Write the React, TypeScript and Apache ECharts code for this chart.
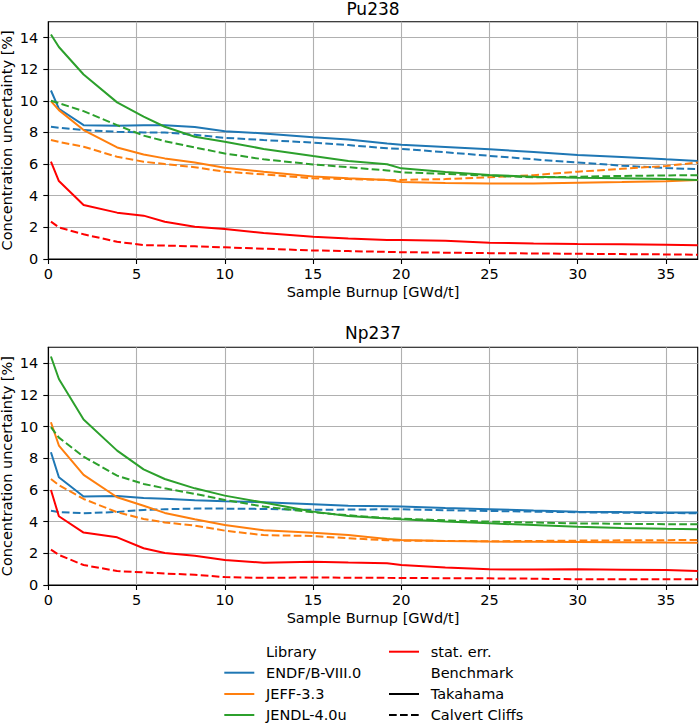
import React, { useEffect, useRef } from "react";
import * as echarts from "echarts";

// Sample burnup points [GWd/t]
const burnup = [0.15, 0.6, 2, 3.9, 5.4, 6.6, 8.3, 10, 12.2, 15, 17, 19.2, 20, 22.5, 25, 27.5, 30, 32.5, 35, 36.8];

// Pu238 – Takahama (solid)
const puTakENDF = [10.65, 9.5, 8.46, 8.42, 8.46, 8.45, 8.35, 8.08, 7.94, 7.7, 7.55, 7.3, 7.22, 7.08, 6.94, 6.76, 6.58, 6.45, 6.3, 6.2];
const puTakJEFF = [9.98, 9.41, 8.15, 7.05, 6.61, 6.36, 6.1, 5.77, 5.52, 5.21, 5.1, 5.0, 4.87, 4.8, 4.78, 4.78, 4.82, 4.86, 4.92, 5.0];
const puTakJENDL = [14.19, 13.4, 11.66, 9.9, 9.0, 8.36, 7.73, 7.41, 6.96, 6.51, 6.2, 5.99, 5.73, 5.5, 5.31, 5.2, 5.14, 5.1, 5.05, 5.0];
const puTakStat = [6.15, 4.93, 3.41, 2.93, 2.74, 2.36, 2.04, 1.89, 1.65, 1.41, 1.3, 1.2, 1.2, 1.15, 1.03, 0.98, 0.95, 0.93, 0.9, 0.87];
// Pu238 – Calvert Cliffs (dashed)
const puCalENDF = [8.36, 8.3, 8.15, 8.04, 8.0, 8.0, 7.85, 7.66, 7.52, 7.36, 7.2, 7.0, 6.96, 6.75, 6.52, 6.3, 6.1, 5.9, 5.75, 5.68];
const puCalJEFF = [7.52, 7.4, 7.1, 6.46, 6.15, 6.0, 5.8, 5.52, 5.35, 5.1, 5.05, 5.0, 5.0, 5.05, 5.17, 5.3, 5.52, 5.7, 5.88, 6.1];
const puCalJENDL = [10.0, 9.85, 9.35, 8.46, 7.8, 7.45, 7.05, 6.67, 6.3, 5.98, 5.8, 5.6, 5.48, 5.38, 5.27, 5.16, 5.2, 5.25, 5.28, 5.3];
const puCalStat = [2.36, 2.0, 1.56, 1.09, 0.88, 0.85, 0.8, 0.74, 0.65, 0.54, 0.5, 0.45, 0.43, 0.4, 0.37, 0.35, 0.33, 0.31, 0.29, 0.27];

// Np237 – Takahama (solid)
const npTakENDF = [8.38, 6.8, 5.58, 5.62, 5.49, 5.45, 5.35, 5.28, 5.22, 5.09, 5.0, 4.97, 4.95, 4.86, 4.78, 4.7, 4.63, 4.6, 4.58, 4.57];
const npTakJEFF = [10.27, 8.8, 6.95, 5.54, 5.0, 4.55, 4.15, 3.79, 3.45, 3.3, 3.15, 2.9, 2.84, 2.78, 2.74, 2.73, 2.72, 2.7, 2.68, 2.67];
const npTakJENDL = [14.42, 13.0, 10.44, 8.48, 7.3, 6.69, 6.1, 5.64, 5.2, 4.63, 4.35, 4.2, 4.15, 4.0, 3.89, 3.78, 3.68, 3.6, 3.55, 3.52];
const npTakStat = [6.0, 4.34, 3.31, 3.01, 2.32, 2.02, 1.85, 1.58, 1.4, 1.47, 1.42, 1.37, 1.26, 1.1, 0.99, 0.98, 0.99, 0.97, 0.95, 0.88];
// Np237 – Calvert Cliffs (dashed)
const npCalENDF = [4.69, 4.6, 4.53, 4.61, 4.74, 4.78, 4.82, 4.82, 4.8, 4.74, 4.76, 4.78, 4.78, 4.72, 4.67, 4.63, 4.59, 4.56, 4.54, 4.53];
const npCalJEFF = [6.69, 6.3, 5.43, 4.59, 4.17, 3.95, 3.75, 3.43, 3.15, 3.09, 2.95, 2.82, 2.8, 2.78, 2.76, 2.78, 2.8, 2.82, 2.83, 2.84];
const npCalJENDL = [9.96, 9.3, 8.1, 6.9, 6.38, 6.1, 5.75, 5.37, 4.95, 4.59, 4.4, 4.22, 4.19, 4.08, 4.0, 3.94, 3.89, 3.86, 3.84, 3.83];
const npCalStat = [2.23, 1.9, 1.26, 0.88, 0.8, 0.72, 0.65, 0.5, 0.45, 0.48, 0.46, 0.45, 0.44, 0.43, 0.42, 0.4, 0.36, 0.36, 0.36, 0.36];

const xTicks = [0, 5, 10, 15, 20, 25, 30, 35];
const yTicks = [0, 2, 4, 6, 8, 10, 12, 14];
const titles = ["Pu238", "Np237"];
const libraries = ["ENDF/B-VIII.0", "JEFF-3.3", "JENDL-4.0u"];
const benchmarks = ["Takahama", "Calvert Cliffs"];

const C_BLUE = "#1f77b4";
const C_ORANGE = "#ff7f0e";
const C_GREEN = "#2ca02c";
const C_RED = "#ff0000";
const FONT = "DejaVu Sans";
const FS = 14.5;
const DASH = [7.7, 3.3];

function mk(name: string, vals: number[], color: string, dashed: boolean, g: number) {
  return {
    name,
    type: "line",
    xAxisIndex: g,
    yAxisIndex: g,
    data: vals.map((v, i) => [burnup[i], v]),
    showSymbol: false,
    symbol: "none",
    clip: true,
    lineStyle: { color, width: 2, type: dashed ? DASH : "solid" },
    itemStyle: { color },
  };
}

export default function App() {
  const ref = useRef<HTMLDivElement>(null);
  useEffect(() => {
    if (!ref.current) return;
    const chart = echarts.init(ref.current, null, { renderer: "svg" });
    const L = 48.3;
    const W = 649.4;
    const grids = [
      { left: L, top: 21.7, width: W, height: 237.3 },
      { left: L, top: 347.3, width: W, height: 237.7 },
    ];
    const xAxis = grids.map((_, i) => ({
      type: "value",
      gridIndex: i,
      min: 0,
      max: 36.8,
      interval: 5,
      name: "Sample Burnup [GWd/t]",
      nameLocation: "middle",
      nameGap: 25,
      nameMoveOverlap: false,
      nameTextStyle: { fontFamily: FONT, fontSize: FS, color: "#000" },
      axisLine: { show: true, onZero: false, lineStyle: { color: "#000", width: 1.1 } },
      axisTick: { show: true, length: 5, lineStyle: { color: "#000", width: 1.1 }, customValues: xTicks },
      axisLabel: { fontFamily: FONT, fontSize: FS, color: "#000", margin: 7, customValues: xTicks },
      splitLine: { show: true, lineStyle: { color: "#b0b0b0", width: 1.1 } },
    }));
    const yAxis = grids.map((_, i) => ({
      type: "value",
      gridIndex: i,
      min: 0,
      max: 15,
      interval: 2,
      name: "Concentration uncertainty [%]",
      nameLocation: "middle",
      nameGap: 33.5,
      nameMoveOverlap: false,
      nameTextStyle: { fontFamily: FONT, fontSize: FS, color: "#000" },
      axisLine: { show: true, onZero: false, lineStyle: { color: "#000", width: 1.1 } },
      axisTick: { show: true, length: 5, lineStyle: { color: "#000", width: 1.1 }, customValues: yTicks },
      axisLabel: { fontFamily: FONT, fontSize: FS, color: "#000", margin: 10, customValues: yTicks },
      splitLine: { show: true, lineStyle: { color: "#b0b0b0", width: 1.1 } },
    }));

    const series = [
      mk("pu-t-endf", puTakENDF, C_BLUE, false, 0),
      mk("pu-c-endf", puCalENDF, C_BLUE, true, 0),
      mk("pu-t-jeff", puTakJEFF, C_ORANGE, false, 0),
      mk("pu-c-jeff", puCalJEFF, C_ORANGE, true, 0),
      mk("pu-t-jendl", puTakJENDL, C_GREEN, false, 0),
      mk("pu-c-jendl", puCalJENDL, C_GREEN, true, 0),
      mk("pu-t-stat", puTakStat, C_RED, false, 0),
      mk("pu-c-stat", puCalStat, C_RED, true, 0),
      mk("np-t-endf", npTakENDF, C_BLUE, false, 1),
      mk("np-c-endf", npCalENDF, C_BLUE, true, 1),
      mk("np-t-jeff", npTakJEFF, C_ORANGE, false, 1),
      mk("np-c-jeff", npCalJEFF, C_ORANGE, true, 1),
      mk("np-t-jendl", npTakJENDL, C_GREEN, false, 1),
      mk("np-c-jendl", npCalJENDL, C_GREEN, true, 1),
      mk("np-t-stat", npTakStat, C_RED, false, 1),
      mk("np-c-stat", npCalStat, C_RED, true, 1),
    ];

    const txt = (text: string, x: number, y: number, size: number, align = "left") => ({
      type: "text",
      x,
      y,
      style: {
        text,
        fill: "#000",
        font: `${size}px "${FONT}"`,
        fontFamily: FONT,
        fontSize: size,
        textAlign: align,
        align,
        textVerticalAlign: "middle",
        verticalAlign: "middle",
      },
    });
    const seg = (x1: number, y: number, color: string, dashed: boolean) => ({
      type: "line",
      shape: { x1, y1: y, x2: x1 + 30, y2: y },
      style: { stroke: color, lineWidth: 2, lineDash: dashed ? DASH : null },
    });
    const rows = [651.7, 672.7, 694, 715];
    const c1Line = 224.3, c1Text = 266, c2Line = 389, c2Text = 430.7;
    const graphic = [
      txt(titles[0], 373, 9, 17, "center"),
      txt(titles[1], 373, 332.5, 17, "center"),
      txt("Library", c1Text, rows[0], FS),
      seg(c1Line, rows[1], C_BLUE, false),
      txt(libraries[0], c1Text, rows[1], FS),
      seg(c1Line, rows[2], C_ORANGE, false),
      txt(libraries[1], c1Text, rows[2], FS),
      seg(c1Line, rows[3], C_GREEN, false),
      txt(libraries[2], c1Text, rows[3], FS),
      seg(c2Line, rows[0], C_RED, false),
      txt("stat. err.", c2Text, rows[0], FS),
      txt("Benchmark", c2Text, rows[1], FS),
      seg(c2Line, rows[2], "#000", false),
      txt(benchmarks[0], c2Text, rows[2], FS),
      seg(c2Line, rows[3], "#000", true),
      txt(benchmarks[1], c2Text, rows[3], FS),
    ];

    chart.setOption({
      animation: false,
      backgroundColor: "#fff",
      textStyle: { fontFamily: FONT },
      grid: grids.map((g) => ({
        ...g,
        show: true,
        borderColor: "#000",
        borderWidth: 1.1,
        backgroundColor: "transparent",
        containLabel: false,
        outerBoundsMode: "none",
      })),
      xAxis,
      yAxis,
      series,
      graphic,
    });
    return () => chart.dispose();
  }, []);
  return (
    <div
      ref={ref}
      style={{ position: "absolute", left: 0, top: 0, width: 699, height: 723, background: "#fff" }}
    />
  );
}
